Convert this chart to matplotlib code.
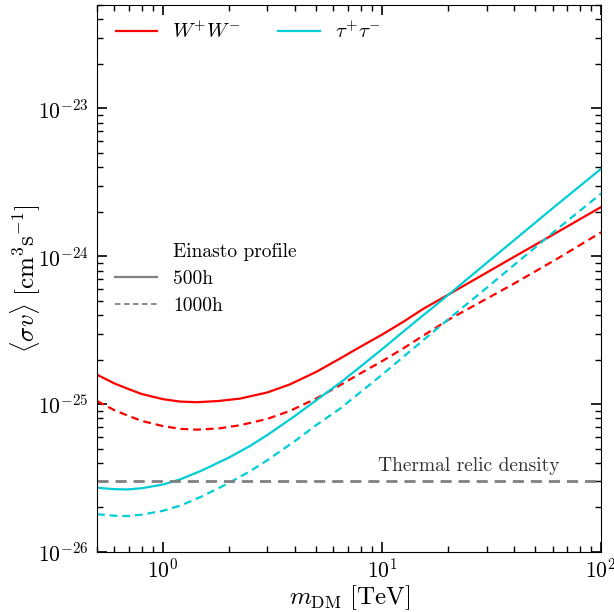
import numpy as np
import matplotlib
matplotlib.use('Agg')
import matplotlib.pyplot as plt
from matplotlib.lines import Line2D

plt.rcParams['font.family'] = 'serif'
plt.rcParams['font.serif'] = ['cmr10', 'DejaVu Serif']
plt.rcParams['mathtext.fontset'] = 'cm'
plt.rcParams['axes.formatter.use_mathtext'] = True

# values (mass in TeV, <sigma v> in cm^3/s)
m_ww = [0.5, 0.6, 0.7, 0.8, 1.0, 1.2, 1.43, 1.8, 2.25, 3.0, 3.8, 5.0, 6.42, 8.0,
        10.0, 12.5, 15.4, 20.3, 39.5, 62.2, 100]
sv_ww_500 = [1.58e-25, 1.38e-25, 1.26e-25, 1.17e-25, 1.08e-25, 1.04e-25, 1.03e-25,
             1.05e-25, 1.09e-25, 1.2e-25, 1.36e-25, 1.65e-25, 2.03e-25, 2.45e-25,
             2.95e-25, 3.6e-25, 4.4e-25, 5.55e-25, 9.78e-25, 1.435e-24, 2.15e-24]
sv_ww_1000 = [1.05e-25, 9.1e-26, 8.3e-26, 7.7e-26, 7.1e-26, 6.8e-26, 6.72e-26,
              6.85e-26, 7.2e-26, 7.95e-26, 9.0e-26, 1.09e-25, 1.34e-25, 1.62e-25,
              1.95e-25, 2.38e-25, 2.9e-25, 3.75e-25, 6.45e-25, 9.5e-25, 1.45e-24]

m_tt = [0.5, 0.6, 0.69, 0.8, 1.0, 1.2, 1.5, 2.0, 2.5, 3.0, 4.0, 5.0, 6.42, 8.0,
        10.0, 14.0, 20.3, 30.0, 40.0, 62.2, 100]
sv_tt_500 = [2.72e-26, 2.66e-26, 2.65e-26, 2.7e-26, 2.86e-26, 3.1e-26, 3.55e-26,
             4.35e-26, 5.22e-26, 6.19e-26, 8.31e-26, 1.06e-25, 1.39e-25, 1.8e-25,
             2.35e-25, 3.55e-25, 5.55e-25, 9.0e-25, 1.28e-24, 2.2e-24, 3.9e-24]
sv_tt_1000 = [1.8e-26, 1.76e-26, 1.75e-26, 1.79e-26, 1.9e-26, 2.06e-26, 2.37e-26,
              2.93e-26, 3.52e-26, 4.18e-26, 5.62e-26, 7.2e-26, 9.3e-26, 1.21e-25,
              1.58e-25, 2.4e-25, 3.8e-25, 6.1e-25, 8.7e-25, 1.5e-24, 2.65e-24]

thermal = 3e-26

red = '#ff0000'
cyan = '#00cdd5'

fig = plt.figure(figsize=(6.14, 6.12), dpi=100)
ax = fig.add_axes([0.158, 0.098, 0.821, 0.894])

ax.plot(m_ww, sv_ww_500, color=red, lw=1.6)
ax.plot(m_ww, sv_ww_1000, color=red, lw=1.6, ls=(0, (3.5, 2.2)))
ax.plot(m_tt, sv_tt_500, color=cyan, lw=1.6)
ax.plot(m_tt, sv_tt_1000, color=cyan, lw=1.6, ls=(0, (3.5, 2.2)))
ax.axhline(thermal, color='gray', lw=2, ls=(0, (4, 2.5)))
ax.text(25, 3.3e-26, 'Thermal relic density', ha='center', va='bottom', fontsize=14, color='#333333')

ax.set_xscale('log')
ax.set_yscale('log')
ax.set_xlim(0.5, 100)
ax.set_ylim(1e-26, 5e-23)
ax.tick_params(which='both', direction='in', top=True, right=True, labelsize=15.5)
ax.tick_params(which='major', length=7, width=1.2, pad=6)
ax.tick_params(which='minor', length=4, width=1)
ax.tick_params(axis='x', which='major', pad=4)
ax.set_xlabel(r'$m_{\rm DM}\ [\mathrm{TeV}]$', fontsize=18)
ax.set_ylabel(r'$\langle\sigma v\rangle\ [\mathrm{cm}^3\mathrm{s}^{-1}]$', fontsize=18)
ax.xaxis.set_label_coords(0.5, -0.057)
ax.yaxis.set_label_coords(-0.108, 0.5)

h1 = [Line2D([], [], color=red, lw=1.6), Line2D([], [], color=cyan, lw=1.6)]
leg1 = ax.legend(h1, [r'$W^{+}W^{-}$', r'$\tau^{+}\tau^{-}$'], loc='upper left', ncol=2,
                 frameon=False, fontsize=15, handlelength=2.0, handletextpad=0.7,
                 columnspacing=1.8, bbox_to_anchor=(0.0, 1.005))
ax.add_artist(leg1)

h2 = [Line2D([], [], color='none'), Line2D([], [], color='gray', lw=1.6),
      Line2D([], [], color='gray', lw=1.3, ls=(0, (3, 2)))]
ax.legend(h2, ['Einasto profile', '500h', '1000h'], loc='upper left', frameon=False,
          fontsize=14, handlelength=2.2, labelspacing=0.45,
          bbox_to_anchor=(0.0, 0.596))

fig.savefig('out.png', dpi=100)
